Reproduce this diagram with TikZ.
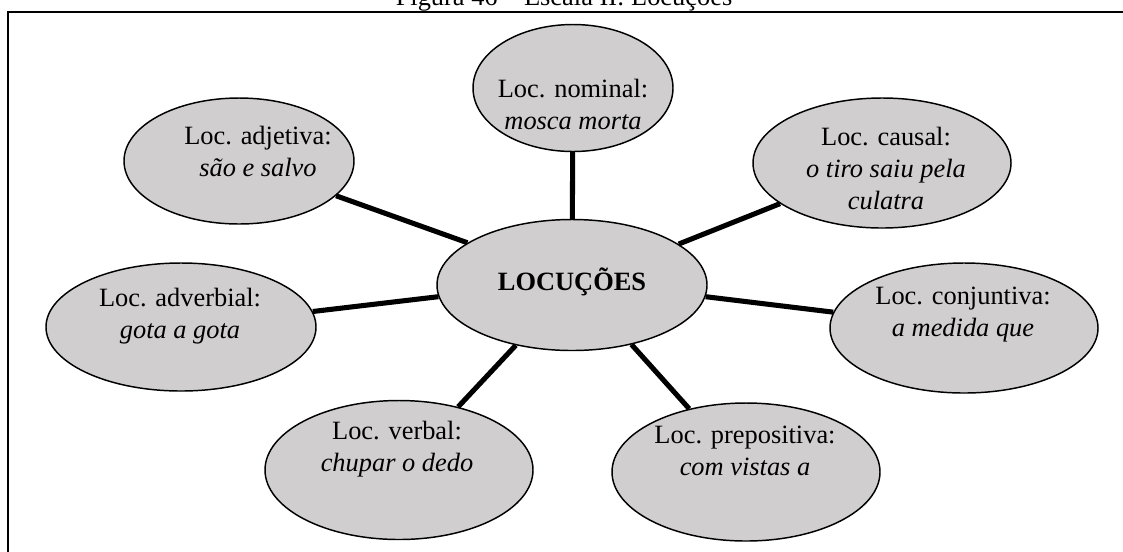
\documentclass[tikz,border=0pt]{standalone}
\usepackage{fontspec}
\setmainfont{Liberation Serif}
\usetikzlibrary{shapes.geometric}
\definecolor{bubfill}{RGB}{208,206,207}
\begin{document}
\begin{tikzpicture}[x=0.75pt,y=-0.75pt,
  bub/.style={ellipse, draw=black, line width=1.1pt, fill=bubfill, inner sep=0pt},
  txt/.style={align=center, font=\fontsize{19.8}{24}\selectfont, inner sep=0pt},
  link/.style={line width=3.8pt, black},
  frame/.style={line width=1.5pt, black}]
\useasboundingbox (0,0) rectangle (1123,551);
% frame
\coordinate (fbl) at (8,560);
\coordinate (ftl) at (8,11.5);
\coordinate (ftr) at (1130,11.5);
\draw[frame] (fbl) -- (ftl) -- (ftr);
% title (cut by page edge, as in the reference)
\node[txt, anchor=base] (title) at (564,5.5) {Figura 46 -- Escala II: Locuções};
% ellipses
\node[bub, minimum width=202.5pt, minimum height=98.25pt] (c) at (572,285) {};
\node[bub, minimum width=150pt, minimum height=95.25pt] (nom) at (573,88) {};
\node[bub, minimum width=172.5pt, minimum height=94.5pt] (adj) at (239,161) {};
\node[bub, minimum width=193.5pt, minimum height=97.5pt] (cau) at (882,163) {};
\node[bub, minimum width=201pt, minimum height=97.5pt] (con) at (964,328) {};
\node[bub, minimum width=202.5pt, minimum height=96pt] (adv) at (181,327) {};
\node[bub, minimum width=201pt, minimum height=104.25pt] (ver) at (399,470) {};
\node[bub, minimum width=201pt, minimum height=103.5pt] (pre) at (746,472) {};
% connectors
\draw[link] (nom) -- (c);
\draw[link] (c.158) -- (adj);
\draw[link] (c.21.6) -- (cau);
\draw[link] (c.185.2) -- (adv);
\draw[link] (c.-5.6) -- (con);
\draw[link] (c.227.4) -- (ver);
\draw[link] (c.-45.5) -- (pre);
% texts
\node[txt] (tc) at (572,282) {\textbf{LOCUÇÕES}};
\node[txt] (tnom) at (573,104) {Loc. nominal:\\\textit{mosca morta}};
\node[txt] (tadj) at (258,151) {Loc. adjetiva:\\\textit{são e salvo}};
\node[txt] (tcau) at (886,168) {Loc. causal:\\\textit{o tiro saiu pela}\\\textit{culatra}};
\node[txt] (tcon) at (963,315) {Loc. conjuntiva:\\\textit{a medida que}};
\node[txt] (tadv) at (180,316) {Loc. adverbial:\\\textit{gota a gota}};
\node[txt] (tver) at (397,449) {Loc. verbal:\\\textit{chupar o dedo}};
\node[txt] (tpre) at (745,451) {Loc. prepositiva:\\\textit{com vistas a}};
\end{tikzpicture}
\end{document}
